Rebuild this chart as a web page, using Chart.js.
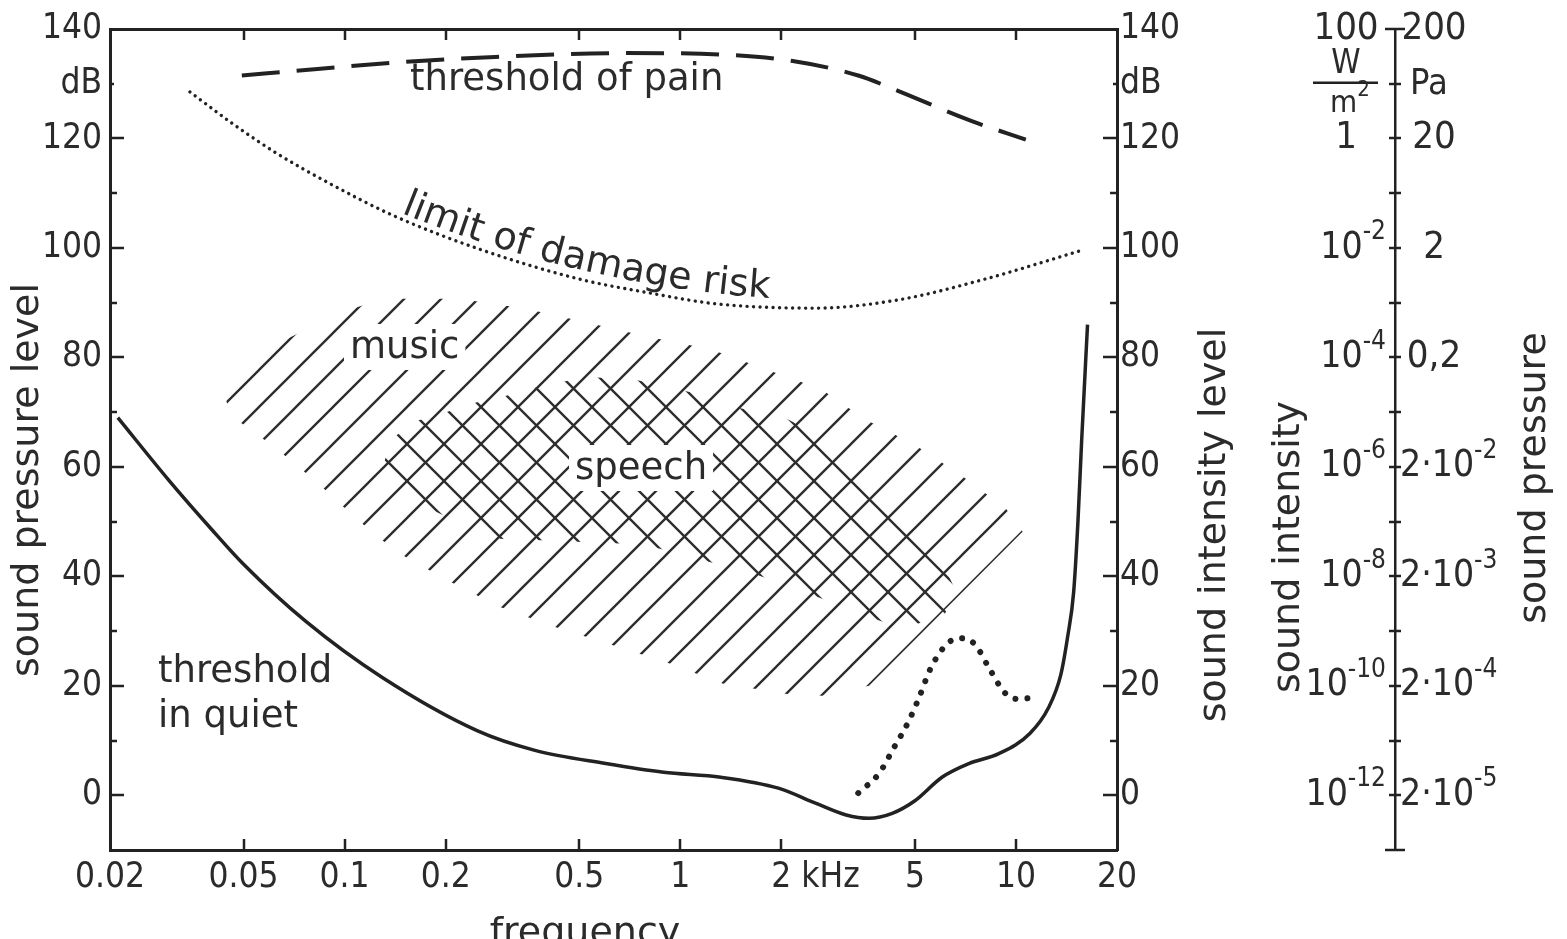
<!DOCTYPE html>
<html>
<head>
<meta charset="utf-8">
<title>Hearing area</title>
<script src="https://cdn.jsdelivr.net/npm/chart.js@4.4.1/dist/chart.umd.min.js"></script>
<style>
  html, body { margin: 0; padding: 0; background: #fff; overflow: hidden; }
  #myChart { display: block; }
</style>
</head>
<body>
<canvas id="myChart" width="1567" height="939"></canvas>
<script>
(function () {
  "use strict";

  // ---- axes ----
  const freqTicks = [0.02, 0.05, 0.1, 0.2, 0.5, 1, 2, 5, 10, 20];          // kHz
  const freqTickLabels = ['0.02', '0.05', '0.1', '0.2', '0.5', '1', '2', '5', '10', '20'];
  const levelTicks = [-10, 0, 10, 20, 30, 40, 50, 60, 70, 80, 90, 100, 110, 120, 130, 140]; // dB
  const labelledLevels = [140, 120, 100, 80, 60, 40, 20, 0];
  const intensityLabels = ['100', '1', '10^-2', '10^-4', '10^-6', '10^-8', '10^-10', '10^-12'];   // W/m2
  const pressureLabels = ['200', '20', '2', '0,2', '2\u00b710^-2', '2\u00b710^-3', '2\u00b710^-4', '2\u00b710^-5']; // Pa

  // ---- curves (frequency kHz / level dB) ----
  const quietFreq  = [0.0211, 0.03, 0.04, 0.05, 0.0765, 0.1295, 0.248, 0.369, 0.6, 0.892, 1.32, 1.96, 2.54, 3.12, 3.65, 4.28, 5.0, 6.02, 7.24, 8.89, 11.0, 12.5, 13.6, 14.26, 14.85, 15.3, 15.7, 16.34];
  const quietLevel = [69, 57.5, 48.7, 42.2, 31.8, 21.5, 11.8, 8.2, 5.8, 4.2, 3.3, 1.3, -1.5, -3.6, -4.2, -3.3, -1, 3.3, 5.8, 7.6, 11.3, 16, 22, 29, 37, 50, 65, 86];

  const painFreq  = [0.0494, 0.083, 0.1425, 0.281, 0.692, 1.363, 2.14, 3.39, 4.45, 7.29, 10.7];
  const painLevel = [131.5, 132.7, 133.9, 134.9, 135.6, 135.3, 134.2, 131.5, 128.7, 123.3, 119.8];

  const damageFreq  = [0.0346, 0.0464, 0.0627, 0.092, 0.1387, 0.257, 0.509, 0.805, 1.273, 2.52, 4.45, 7.97, 15.6];
  const damageLevel = [128.5, 122.7, 117.3, 111.5, 106.0, 99.6, 94.2, 91.8, 89.8, 89.0, 90.5, 94.2, 99.5];

  const exposedFreq  = [3.39, 3.91, 4.33, 4.77, 5.14, 5.58, 6.27, 6.85, 7.54, 8.36, 9.27, 10.05, 11.3];
  const exposedLevel = [0.4, 4, 8.7, 13.3, 17.8, 23.3, 27.8, 28.7, 27.6, 23, 18.7, 17.6, 17.8];

  // ---- hatched areas: upper and lower edge ----
  const musicTopFreq  = [0.0430, 0.0521, 0.0734, 0.0901, 0.1313, 0.2193, 0.347, 0.523, 0.794, 1.230, 1.805, 2.63, 3.55, 5.00, 6.85, 9.33, 10.48];
  const musicTopLevel = [75.5, 80.0, 84.5, 87.6, 90.7, 90.7, 88.9, 86.4, 83.8, 81.5, 77.8, 74.2, 68.7, 64.0, 58.5, 52.4, 48.2];
  const musicLowFreq  = [0.0430, 0.0455, 0.0619, 0.0824, 0.1084, 0.1425, 0.205, 0.288, 0.417, 0.617, 0.917, 1.336, 2.08, 2.65, 3.65, 10.48];
  const musicLowLevel = [75.5, 69.5, 63.6, 57.3, 50.5, 44.5, 39.1, 34.5, 30.9, 27.6, 24.2, 20.4, 18.5, 18.2, 20.0, 48.2];

  const speechTopFreq  = [0.1313, 0.1387, 0.1591, 0.1913, 0.2349, 0.2924, 0.3542, 0.4408, 0.5412, 0.7516, 1.081, 1.460, 2.028, 3.32, 5.28, 6.62];
  const speechTopLevel = [61, 65.1, 68.2, 69.5, 71.5, 72.7, 74.2, 75.5, 76.4, 75.8, 73.6, 70.9, 69.1, 62.2, 50.0, 37.3];
  const speechLowFreq  = [0.1313, 0.1786, 0.275, 0.354, 0.778, 1.111, 1.674, 2.456, 3.39, 4.61, 6.14, 6.62];
  const speechLowLevel = [61, 52.4, 46.9, 46.7, 45.8, 43.3, 40.4, 36.7, 33.3, 30.4, 33.1, 37.3];

  const ink = '#222222';
  const textInk = '#2b2b2b';

  function hasFont(name) {
    const c = document.createElement('canvas').getContext('2d');
    const s = 'abcdefghijklmnopqrstuvwxyz0123456789';
    c.font = '40px monospace'; const w1 = c.measureText(s).width;
    c.font = '40px "' + name + '", monospace'; const w2 = c.measureText(s).width;
    c.font = '40px serif'; const w3 = c.measureText(s).width;
    c.font = '40px "' + name + '", serif'; const w4 = c.measureText(s).width;
    return w1 !== w2 || w3 !== w4;
  }
  let digitFamily = "'Liberation Sans', sans-serif", digitSize = 35;
  if (hasFont('Liberation Sans Narrow')) { digitFamily = "'Liberation Sans Narrow', sans-serif"; digitSize = 40; }
  else if (hasFont('DejaVu Sans Condensed')) { digitFamily = "'DejaVu Sans Condensed', sans-serif"; digitSize = 35; }
  const textFamily = "'DejaVu Sans', sans-serif";

  function pairs(xs, ys) { return xs.map((x, i) => ({x: x, y: ys[i]})); }

  let ctx = document.getElementById('myChart').getContext('2d');

  function hatch(dir) {
    const s = 37;
    const c = document.createElement('canvas');
    c.width = s; c.height = s;
    const g = c.getContext('2d');
    g.strokeStyle = '#2e2e2e';
    g.lineWidth = 2.4;
    g.beginPath();
    if (dir > 0) {
      g.moveTo(-3, s + 3); g.lineTo(s + 3, -3);
      g.moveTo(-3, 3); g.lineTo(3, -3);
      g.moveTo(s - 3, s + 3); g.lineTo(s + 3, s - 3);
    } else {
      g.moveTo(-3, -3); g.lineTo(s + 3, s + 3);
      g.moveTo(s - 3, -3); g.lineTo(s + 3, 3);
      g.moveTo(-3, s - 3); g.lineTo(3, s + 3);
    }
    g.stroke();
    return ctx.createPattern(c, 'repeat');
  }

  function seg(c, x1, y1, x2, y2) {
    c.beginPath(); c.moveTo(x1, y1); c.lineTo(x2, y2); c.stroke();
  }

  // text with a raised exponent, written as "base^exp"
  function supText(c, s, x, y, align, size) {
    const parts = s.split('^');
    const base = parts[0], exp = parts[1] || '';
    const bf = size + 'px ' + digitFamily, ef = Math.round(size * 0.7) + 'px ' + digitFamily;
    c.font = bf; const wb = c.measureText(base).width;
    c.font = ef; const we = exp ? c.measureText(exp).width : 0;
    const total = wb + we;
    let x0 = x;
    if (align === 'right') x0 = x - total;
    else if (align === 'center') x0 = x - total / 2;
    c.textAlign = 'left';
    c.textBaseline = 'middle';
    c.font = bf; c.fillText(base, x0, y);
    if (exp) { c.font = ef; c.fillText(exp, x0 + wb, y - size * 0.42); }
  }

  function vText(c, s, x, y) {
    c.save();
    c.translate(x, y);
    c.rotate(-Math.PI / 2);
    c.textAlign = 'center';
    c.textBaseline = 'middle';
    c.fillText(s, 0, 0);
    c.restore();
  }

  // letters follow a bending baseline
  function bentText(c, s, x, y, a0, a1) {
    const total = c.measureText(s).width;
    let run = 0;
    c.textAlign = 'left';
    c.textBaseline = 'alphabetic';
    for (const ch of s) {
      const w = c.measureText(ch).width;
      const a = (a0 + (a1 - a0) * ((run + w / 2) / total)) * Math.PI / 180;
      c.save();
      c.translate(x, y);
      c.rotate(a);
      c.fillText(ch, 0, 0);
      c.restore();
      x += w * Math.cos(a);
      y += w * Math.sin(a);
      run += w;
    }
  }

  const decor = {
    id: 'decor',
    afterDatasetsDraw(chart) {
      const c = chart.ctx;
      c.save();
      c.fillStyle = textInk;
      c.font = '37px ' + textFamily;
      c.textBaseline = 'middle';
      c.textAlign = 'left';
      // labels that sit in the hatching get a clear patch
      [['music', 350, 348], ['speech', 575, 469]].forEach(function (t) {
        const w = c.measureText(t[0]).width;
        c.fillStyle = '#fff';
        c.fillRect(t[1] - 6, t[2] - 24, w + 12, 46);
        c.fillStyle = textInk;
        c.fillText(t[0], t[1], t[2]);
      });
      c.fillText('threshold of pain', 410, 80);
      c.fillText('threshold', 158, 672);
      c.fillText('in quiet', 158, 717);
      c.font = '38px ' + textFamily;
      bentText(c, 'limit of damage risk', 401, 213, 22, 4);
      c.restore();
    },
    afterDraw(chart) {
      const c = chart.ctx;
      const a = chart.chartArea;
      const sx = chart.scales.x, sy = chart.scales.y, s3 = chart.scales.y3;
      c.save();
      c.strokeStyle = ink;
      c.lineWidth = 2.5;
      freqTicks.slice(1, -1).forEach(function (v) {
        const px = Math.round(sx.getPixelForValue(v));
        seg(c, px, a.bottom, px, a.bottom - 11);
        seg(c, px, a.top, px, a.top + 11);
      });
      levelTicks.forEach(function (v) {
        if (v <= -10 || v >= 140) return;
        const py = Math.round(sy.getPixelForValue(v));
        const len = v % 20 === 0 ? 14 : (v === 130 ? 4 : 7);
        seg(c, a.left, py, a.left + len, py);
        seg(c, a.right, py, a.right - len, py);
      });
      const ax = s3.left;
      levelTicks.forEach(function (v) {
        const py = Math.round(sy.getPixelForValue(v));
        const len = (v === -10 || v === 140) ? 10 : 6;
        seg(c, ax - len, py, ax + len, py);
      });

      c.fillStyle = textInk;
      labelledLevels.forEach(function (v, i) {
        const py = sy.getPixelForValue(v);
        const li = intensityLabels[i], lp = pressureLabels[i];
        if (li.indexOf('^') >= 0) supText(c, li, ax - 9, py, 'right', 37);
        else supText(c, li, ax - 49, py, 'center', 38);
        if (lp.indexOf('^') >= 0) supText(c, lp, ax + 5, py, 'left', 37);
        else supText(c, lp, ax + 39, py, 'center', 38);
      });
      // units
      const pu = sy.getPixelForValue(130);
      supText(c, 'W', ax - 49, pu - 19, 'center', 33);
      c.lineWidth = 2.5;
      seg(c, ax - 82, pu - 1, ax - 17, pu - 1);
      supText(c, 'm^2', ax - 45, pu + 20, 'center', 31);
      supText(c, 'Pa', ax + 15, pu + 1, 'left', 36);
      // kHz after the 2
      c.font = digitSize + 'px ' + digitFamily;
      const w2 = c.measureText('2').width;
      c.textAlign = 'left';
      c.textBaseline = 'middle';
      c.fillText('kHz', sx.getPixelForValue(2) + w2 / 2 + 10, a.bottom + 7 + digitSize * 0.6);

      // axis titles
      c.font = '38px ' + textFamily;
      vText(c, 'sound pressure level', 28, 480);
      vText(c, 'sound intensity level', 1215, 525);
      vText(c, 'sound intensity', 1289, 547);
      vText(c, 'sound pressure', 1535, 478);
      c.textAlign = 'center';
      c.textBaseline = 'alphabetic';
      c.fillText('frequency', 585, 944);
      c.restore();
    }
  };

  const tickFont = {family: digitFamily, size: digitSize};
  const hiddenGrid = {drawOnChartArea: false, drawTicks: false};
  const frame = {display: true, color: ink, width: 3};

  let chart = new Chart(ctx, {
    type: 'line',
    data: {
      datasets: [
        {
          label: 'speech',
          data: pairs(speechTopFreq, speechTopLevel),
          fill: '+1',
          backgroundColor: hatch(-1),
          borderColor: 'rgba(0,0,0,0)',
          borderWidth: 0,
          pointRadius: 0,
          tension: 0,
          order: 1
        },
        {
          label: 'speech lower edge',
          data: pairs(speechLowFreq, speechLowLevel),
          fill: false,
          borderColor: 'rgba(0,0,0,0)',
          borderWidth: 0,
          pointRadius: 0,
          tension: 0,
          order: 1
        },
        {
          label: 'music',
          data: pairs(musicTopFreq, musicTopLevel),
          fill: '+1',
          backgroundColor: hatch(1),
          borderColor: 'rgba(0,0,0,0)',
          borderWidth: 0,
          pointRadius: 0,
          tension: 0,
          order: 2
        },
        {
          label: 'music lower edge',
          data: pairs(musicLowFreq, musicLowLevel),
          fill: false,
          borderColor: 'rgba(0,0,0,0)',
          borderWidth: 0,
          pointRadius: 0,
          tension: 0,
          order: 2
        },
        {
          label: 'threshold in quiet',
          data: pairs(quietFreq, quietLevel),
          fill: false,
          borderColor: ink,
          borderWidth: 3.5,
          pointRadius: 0,
          cubicInterpolationMode: 'monotone',
          order: 0
        },
        {
          label: 'threshold of pain',
          data: pairs(painFreq, painLevel),
          fill: false,
          borderColor: ink,
          borderWidth: 4,
          borderDash: [38, 17],
          pointRadius: 0,
          cubicInterpolationMode: 'monotone',
          order: 0
        },
        {
          label: 'limit of damage risk',
          data: pairs(damageFreq, damageLevel),
          fill: false,
          borderColor: ink,
          borderWidth: 3.4,
          borderDash: [0.01, 6.5],
          borderCapStyle: 'round',
          pointRadius: 0,
          cubicInterpolationMode: 'monotone',
          order: 0
        },
        {
          label: 'after exposure',
          data: pairs(exposedFreq, exposedLevel),
          fill: false,
          borderColor: ink,
          borderWidth: 6,
          borderDash: [0.01, 12],
          borderCapStyle: 'round',
          pointRadius: 0,
          cubicInterpolationMode: 'monotone',
          order: 0
        }
      ]
    },
    options: {
      responsive: false,
      animation: false,
      devicePixelRatio: 1,
      layout: {padding: {top: 25, left: 0, right: 0, bottom: 0}},
      plugins: {
        legend: {display: false},
        tooltip: {enabled: false}
      },
      scales: {
        x: {
          type: 'logarithmic',
          position: 'bottom',
          min: 0.02,
          max: 20,
          afterFit: function (s) { s.height = 89; },
          afterBuildTicks: function (s) { s.ticks = freqTicks.map(v => ({value: v})); },
          ticks: {
            autoSkip: false, maxRotation: 0, minRotation: 0, padding: 7,
            color: textInk, font: tickFont,
            callback: function (v, i) { return freqTickLabels[i]; }
          },
          grid: hiddenGrid,
          border: frame
        },
        xTop: {
          type: 'logarithmic',
          position: 'top',
          min: 0.02,
          max: 20,
          afterFit: function (s) { s.height = 0; },
          ticks: {display: false},
          grid: hiddenGrid,
          border: frame
        },
        y: {
          position: 'left',
          min: -10,
          max: 140,
          afterFit: function (s) { s.width = 110; },
          afterBuildTicks: function (s) { s.ticks = levelTicks.map(v => ({value: v})); },
          ticks: {
            autoSkip: false, padding: 8, color: textInk, font: tickFont,
            callback: function (v) { return v % 20 === 0 ? String(v) : (v === 130 ? 'dB' : ''); }
          },
          grid: hiddenGrid,
          border: frame
        },
        y2: {
          position: 'right',
          weight: 0,
          min: -10,
          max: 140,
          afterFit: function (s) { s.width = 278; },
          afterBuildTicks: function (s) { s.ticks = levelTicks.map(v => ({value: v})); },
          ticks: {
            autoSkip: false, padding: 3, color: textInk, font: tickFont,
            callback: function (v) { return v % 20 === 0 ? String(v) : (v === 130 ? 'dB' : ''); }
          },
          grid: hiddenGrid,
          border: frame
        },
        y3: {
          position: 'right',
          weight: 1,
          min: -10,
          max: 140,
          afterFit: function (s) { s.width = 172; },
          ticks: {display: false},
          grid: hiddenGrid,
          border: {display: true, color: ink, width: 2.5}
        }
      }
    },
    plugins: [decor]
  });
})();
</script>
</body>
</html>
